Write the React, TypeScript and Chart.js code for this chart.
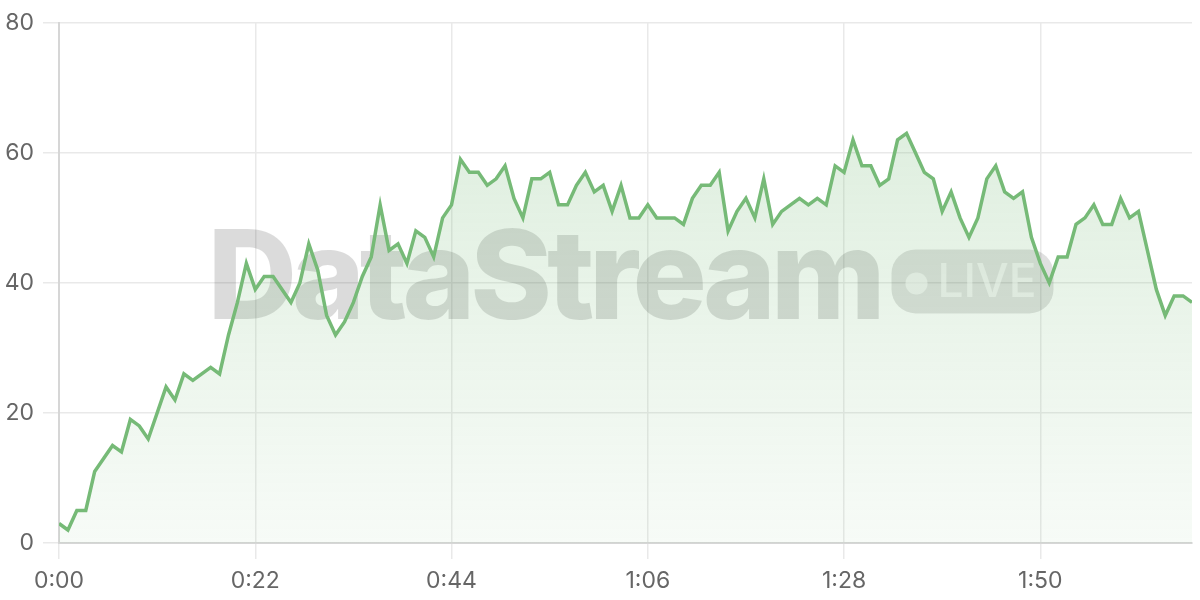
import React, { useEffect, useRef } from "react";
import { Chart, registerables } from "chart.js";

Chart.register(...registerables);

// Elapsed seconds on the x axis (one sample per second)
const SECONDS: number[] = [
  0, 1, 2, 3, 4, 5, 6, 7, 8, 9, 10, 11, 12, 13, 14, 15, 16, 17, 18, 19,
  20, 21, 22, 23, 24, 25, 26, 27, 28, 29, 30, 31, 32, 33, 34, 35, 36, 37, 38, 39,
  40, 41, 42, 43, 44, 45, 46, 47, 48, 49, 50, 51, 52, 53, 54, 55, 56, 57, 58, 59,
  60, 61, 62, 63, 64, 65, 66, 67, 68, 69, 70, 71, 72, 73, 74, 75, 76, 77, 78, 79,
  80, 81, 82, 83, 84, 85, 86, 87, 88, 89, 90, 91, 92, 93, 94, 95, 96, 97, 98, 99,
  100, 101, 102, 103, 104, 105, 106, 107, 108, 109, 110, 111, 112, 113, 114, 115, 116, 117, 118, 119,
  120, 121, 122, 123, 124, 125, 126, 127,
];

// Stream values
const VALUES: number[] = [
  3, 2, 5, 5, 11, 13, 15, 14, 19, 18, 16, 20, 24, 22, 26, 25, 26, 27, 26, 32,
  37, 43, 39, 41, 41, 39, 37, 40, 46, 42, 35, 32, 34, 37, 41, 44, 52, 45, 46, 43,
  48, 47, 44, 50, 52, 59, 57, 57, 55, 56, 58, 53, 50, 56, 56, 57, 52, 52, 55, 57,
  54, 55, 51, 55, 50, 50, 52, 50, 50, 50, 49, 53, 55, 55, 57, 48, 51, 53, 50, 56,
  49, 51, 52, 53, 52, 53, 52, 58, 57, 62, 58, 58, 55, 56, 62, 63, 60, 57, 56, 51,
  54, 50, 47, 50, 56, 58, 54, 53, 54, 47, 43, 40, 44, 44, 49, 50, 52, 49, 49, 53,
  50, 51, 45, 39, 35, 38, 38, 37,
];

const X_MIN = 0;
const X_MAX = 127;
const X_STEP = 22;
const Y_MIN = 0;
const Y_MAX = 80;
const Y_STEP = 20;

const WATERMARK_TEXT = "DataStream";
const BADGE_TEXT = "LIVE";

const LINE_COLOR = "#76ba77";
const TICK_COLOR = "#666666";
const GRID_COLOR = "#e9e9e9";
const AXIS_COLOR = "#d6d6d6";
const FONT_FAMILY = "Inter, 'Noto Sans', sans-serif";

function formatTime(s: number): string {
  const m = Math.floor(s / 60);
  const sec = Math.round(s % 60);
  return m + ":" + String(sec).padStart(2, "0");
}

function roundRect(ctx: CanvasRenderingContext2D, x: number, y: number, w: number, h: number, r: number) {
  ctx.beginPath();
  ctx.moveTo(x + r, y);
  ctx.lineTo(x + w - r, y);
  ctx.arcTo(x + w, y, x + w, y + r, r);
  ctx.lineTo(x + w, y + h - r);
  ctx.arcTo(x + w, y + h, x + w - r, y + h, r);
  ctx.lineTo(x + r, y + h);
  ctx.arcTo(x, y + h, x, y + h - r, r);
  ctx.lineTo(x, y + r);
  ctx.arcTo(x, y, x + r, y, r);
  ctx.closePath();
}

const watermarkPlugin = {
  id: "watermark",
  beforeDatasetsDraw(chart: any) {
    const { ctx, chartArea } = chart;
    const cx = (chartArea.left + chartArea.right) / 2;
    const cy = (chartArea.top + chartArea.bottom) / 2;
    ctx.save();
    // main word
    ctx.font = `800 124px ${FONT_FAMILY}`;
    const targetW = 673;
    const w0 = ctx.measureText(WATERMARK_TEXT).width;
    const spacing = (targetW - w0) / WATERMARK_TEXT.length;
    (ctx as any).letterSpacing = spacing.toFixed(2) + "px";
    const pillW = 162;
    const pillH = 64;
    const gap = 11;
    const total = targetW + gap + pillW;
    const left = cx + 5 - total / 2;
    const baseline = cy + 36.5;
    ctx.fillStyle = "rgba(0,0,0,0.14)";
    ctx.textBaseline = "alphabetic";
    ctx.textAlign = "left";
    ctx.fillText(WATERMARK_TEXT, left, baseline);
    (ctx as any).letterSpacing = "0px";
    // LIVE pill
    const px = left + targetW + gap;
    const py = cy - 33.5;
    roundRect(ctx, px, py, pillW, pillH, 24);
    ctx.fillStyle = "rgba(0,0,0,0.12)";
    ctx.fill();
    ctx.fillStyle = "rgba(255,255,255,0.6)";
    ctx.beginPath();
    ctx.arc(px + 25, py + 34, 11, 0, Math.PI * 2);
    ctx.fill();
    ctx.font = `500 46px ${FONT_FAMILY}`;
    ctx.fillText(BADGE_TEXT, px + 46, py + 48);
    ctx.restore();
  },
};

export default function App() {
  const canvasRef = useRef<HTMLCanvasElement | null>(null);

  useEffect(() => {
    const canvas = canvasRef.current;
    if (!canvas) return;
    const chart = new Chart(canvas, {
      type: "line",
      data: {
        labels: SECONDS,
        datasets: [
          {
            data: VALUES,
            borderColor: LINE_COLOR,
            borderWidth: 3.5,
            pointRadius: 0,
            tension: 0,
            fill: "origin",
            backgroundColor: (context: any) => {
              const { chart } = context;
              const area = chart.chartArea;
              if (!area) return "rgba(118,186,119,0.15)";
              const g = chart.ctx.createLinearGradient(0, area.top, 0, area.bottom);
              g.addColorStop(0, "rgba(118,186,119,0.28)");
              g.addColorStop(1, "rgba(118,186,119,0.06)");
              return g;
            },
          },
        ],
      },
      options: {
        animation: false,
        responsive: true,
        maintainAspectRatio: false,
        layout: { autoPadding: false, padding: { top: 20, right: 8, bottom: 0, left: 0 } },
        plugins: { legend: { display: false }, tooltip: { enabled: false } },
        scales: {
          x: {
            type: "linear",
            min: X_MIN,
            max: X_MAX,
            afterFit: (s: any) => {
              s.height = 57;
            },
            ticks: {
              stepSize: X_STEP,
              includeBounds: false,
              autoSkip: false,
              maxRotation: 0,
              padding: 8,
              color: TICK_COLOR,
              font: { family: FONT_FAMILY, size: 23 },
              callback: (v: any) => formatTime(Number(v)),
            },
            grid: { color: GRID_COLOR, lineWidth: 1.5, tickLength: 16, drawTicks: true },
            border: { color: AXIS_COLOR, width: 2 },
          },
          y: {
            min: Y_MIN,
            max: Y_MAX,
            afterFit: (s: any) => {
              s.width = 59;
            },
            ticks: {
              stepSize: Y_STEP,
              padding: 9,
              color: TICK_COLOR,
              font: { family: FONT_FAMILY, size: 23 },
            },
            grid: { color: GRID_COLOR, lineWidth: 1.5, tickLength: 16, drawTicks: true },
            border: { color: AXIS_COLOR, width: 2 },
          },
        },
      },
      plugins: [watermarkPlugin],
    } as any);
    return () => chart.destroy();
  }, []);

  return (
    <div style={{ position: "fixed", left: 0, top: 0, width: 1200, height: 600, background: "#fff" }}>
      <canvas ref={canvasRef} />
    </div>
  );
}
